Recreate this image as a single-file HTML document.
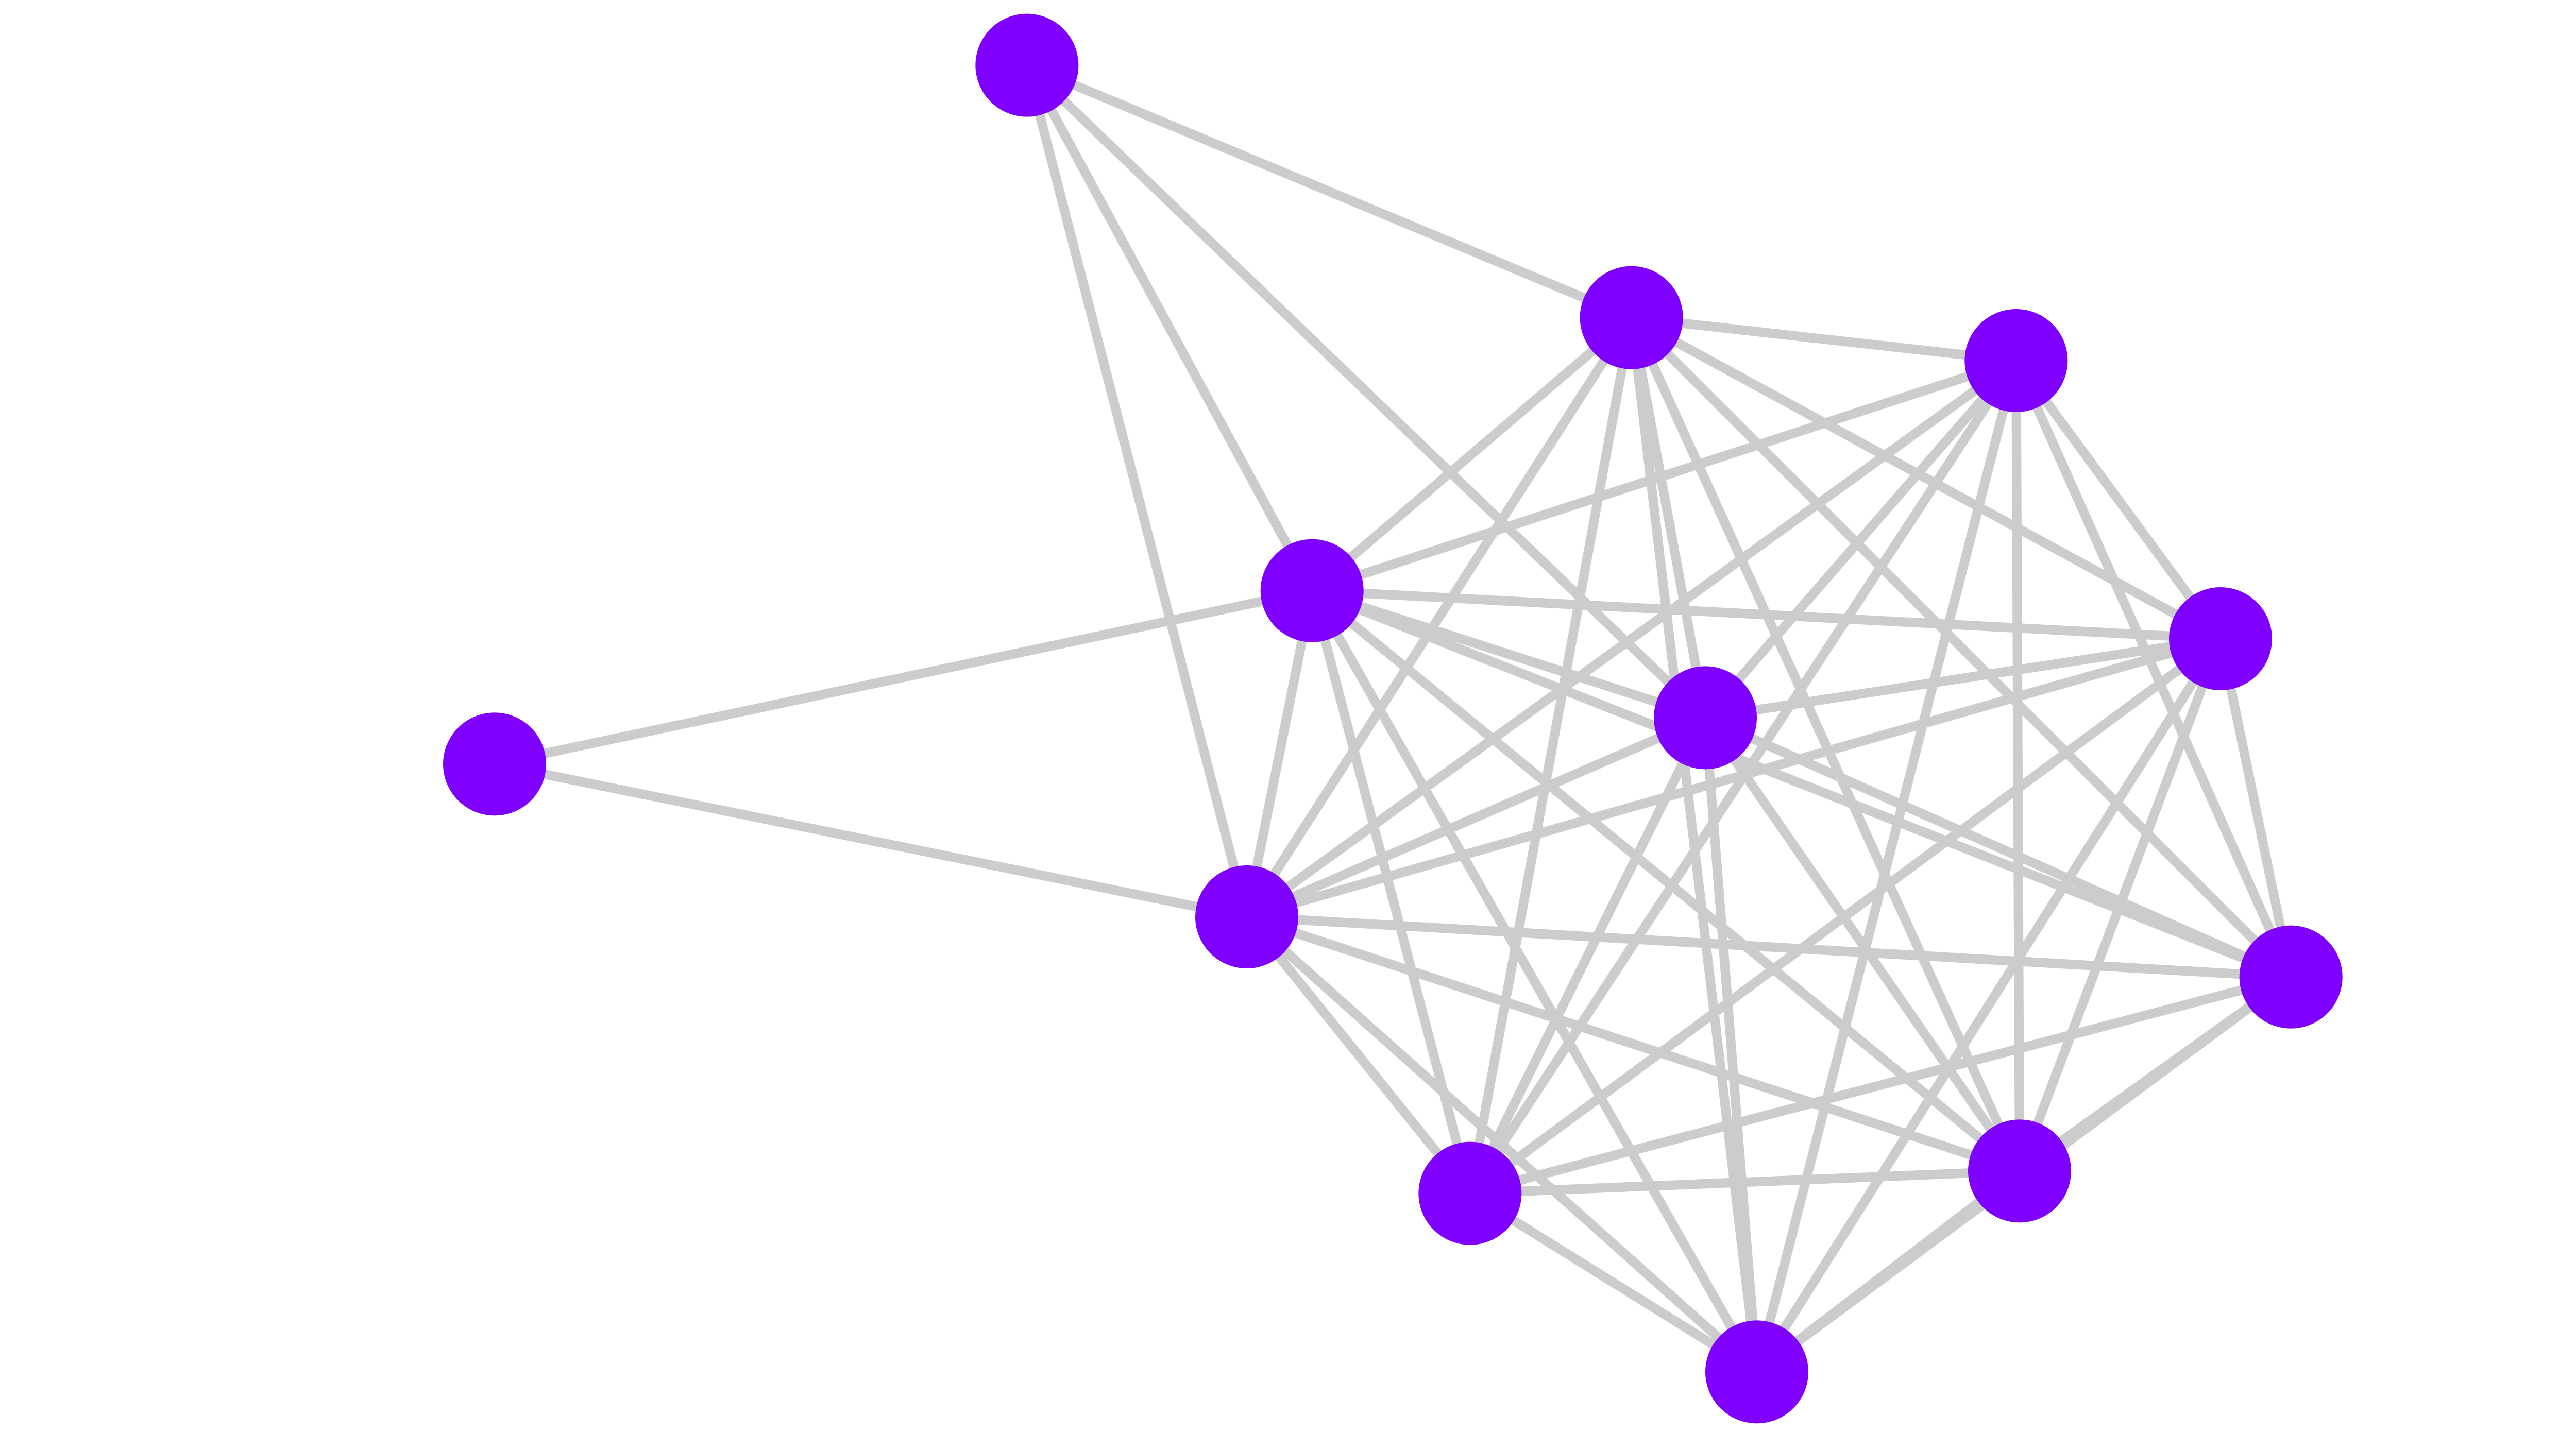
<!DOCTYPE html>
<html><head><meta charset="utf-8"><style>
html,body{margin:0;padding:0;background:#fff;width:5200px;height:2780px;overflow:hidden}
svg{display:block}
</style></head><body>
<svg id="g" width="5200" height="2780" viewBox="0 0 1560 834" xmlns="http://www.w3.org/2000/svg">
<g id="edges" stroke="#cccccc" stroke-width="5.5" stroke-linecap="round"></g>
<g id="nodes" fill="#7f00ff"></g>
</svg>
<script>
var N={A:[598,38],B:[950,185],C:[1174,210],D:[764,344],E:[288,445],F:[993,418],G:[1293,372],H:[726,534],I:[1334,569],J:[856,695],K:[1176,682],L:[1023,799]};
var core="BCDFGHIJKL".split("");
var E=[["A","B"],["A","D"],["A","F"],["A","H"],["E","D"],["E","H"]];
for(var i=0;i<core.length;i++)for(var j=i+1;j<core.length;j++)E.push([core[i],core[j]]);
var ns="http://www.w3.org/2000/svg",eg=document.getElementById("edges"),ng=document.getElementById("nodes");
E.forEach(function(e){var l=document.createElementNS(ns,"line");var a=N[e[0]],b=N[e[1]];
l.setAttribute("x1",a[0]);l.setAttribute("y1",a[1]);l.setAttribute("x2",b[0]);l.setAttribute("y2",b[1]);eg.appendChild(l);});
for(var k in N){var c=document.createElementNS(ns,"circle");c.setAttribute("cx",N[k][0]);c.setAttribute("cy",N[k][1]);c.setAttribute("r",30);ng.appendChild(c);}
</script>
</body></html>
